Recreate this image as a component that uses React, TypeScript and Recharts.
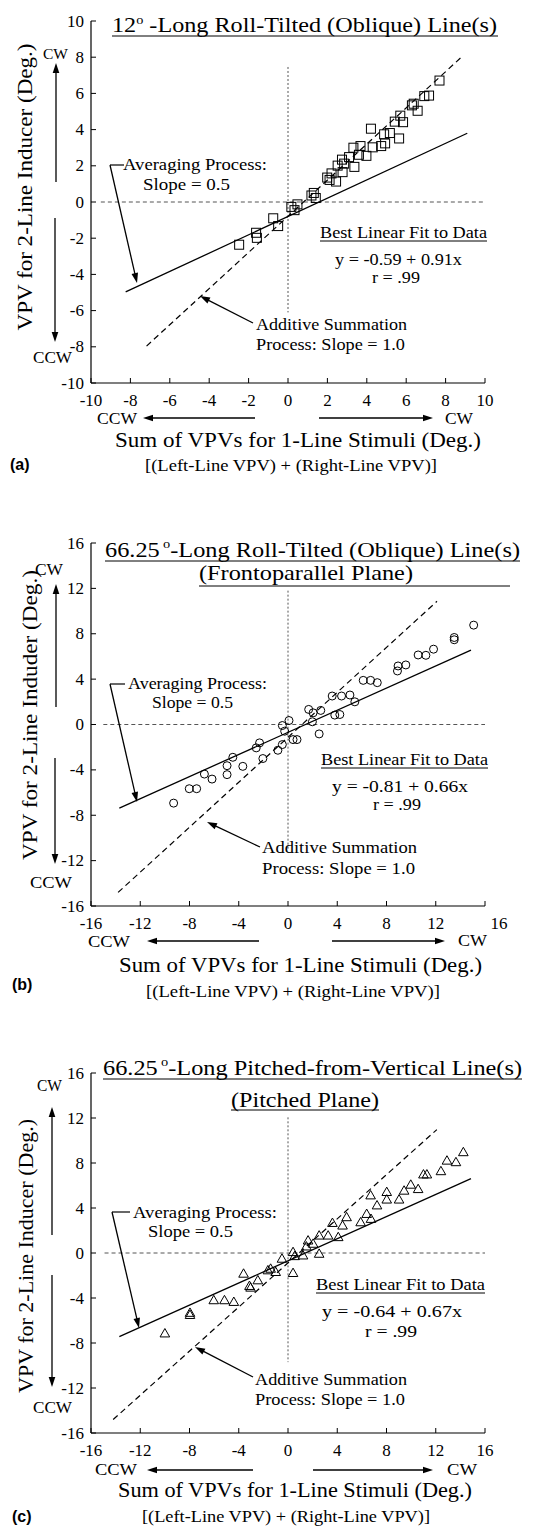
import React from 'react';
import { ScatterChart, Scatter, XAxis, YAxis, ReferenceLine } from 'recharts';

const W = 537;
const H = 1527;
const SERIF = "'Liberation Serif', 'Times New Roman', Times, serif";
const SANS = "'Liberation Sans', Arial, Helvetica, sans-serif";

// ---------- Panel (a): 12 deg roll-tilted lines ----------
const ticksA = [-10, -8, -6, -4, -2, 0, 2, 4, 6, 8, 10];
const pointsA = [
  { x: 7.69, y: 6.71 }, { x: 7.16, y: 5.88 }, { x: 6.92, y: 5.85 }, { x: 6.38, y: 5.43 },
  { x: 6.58, y: 5.04 }, { x: 6.29, y: 5.34 }, { x: 5.7, y: 4.77 }, { x: 5.84, y: 4.41 },
  { x: 5.42, y: 4.44 }, { x: 4.21, y: 4.05 }, { x: 4.88, y: 3.74 }, { x: 5.17, y: 3.81 },
  { x: 5.64, y: 3.51 }, { x: 4.93, y: 3.24 }, { x: 4.73, y: 3.09 }, { x: 4.3, y: 3.02 },
  { x: 3.68, y: 3.09 }, { x: 3.32, y: 3.0 }, { x: 3.6, y: 2.61 }, { x: 3.98, y: 2.55 },
  { x: 3.1, y: 2.48 }, { x: 2.74, y: 2.34 }, { x: 2.85, y: 2.12 }, { x: 3.37, y: 1.94 },
  { x: 2.52, y: 2.01 }, { x: 2.77, y: 1.65 }, { x: 2.21, y: 1.58 }, { x: 1.99, y: 1.35 },
  { x: 2.11, y: 1.22 }, { x: 2.44, y: 1.13 }, { x: 1.31, y: 0.5 }, { x: 1.19, y: 0.36 },
  { x: 1.41, y: 0.22 }, { x: 0.48, y: -0.13 }, { x: 0.17, y: -0.27 }, { x: 0.33, y: -0.45 },
  { x: -0.75, y: -0.9 }, { x: -0.5, y: -1.33 }, { x: -1.62, y: -1.7 }, { x: -1.58, y: -1.98 },
  { x: -2.48, y: -2.36 },
];
const avgLineA = [{ x: -8.24, y: -4.97 }, { x: 9.1, y: 3.8 }];
const addLineA = [{ x: -7.18, y: -7.96 }, { x: 8.9, y: 8.1 }];
const vZeroA = [{ x: 0, y: 7.46 }, { x: 0, y: -6.1 }];
const hZeroA = [{ x: -9.5, y: 0 }, { x: 10, y: 0 }];

// ---------- Panel (b): 66.25 deg roll-tilted lines ----------
const ticksB = [-16, -12, -8, -4, 0, 4, 8, 12, 16];
const pointsB = [
  { x: 15.08, y: 8.76 }, { x: 13.5, y: 7.67 }, { x: 13.5, y: 7.47 }, { x: 11.82, y: 6.64 },
  { x: 11.2, y: 6.1 }, { x: 10.57, y: 6.13 }, { x: 9.57, y: 5.25 }, { x: 8.94, y: 5.16 },
  { x: 8.89, y: 4.72 }, { x: 6.11, y: 3.89 }, { x: 6.71, y: 3.89 }, { x: 7.25, y: 3.69 },
  { x: 3.59, y: 2.51 }, { x: 4.35, y: 2.51 }, { x: 5.03, y: 2.6 }, { x: 5.43, y: 2.0 },
  { x: 1.68, y: 1.33 }, { x: 2.04, y: 1.03 }, { x: 2.66, y: 1.24 }, { x: 3.8, y: 0.83 },
  { x: 4.21, y: 0.88 }, { x: 1.98, y: 0.24 }, { x: 2.53, y: -0.83 }, { x: 0.08, y: 0.35 },
  { x: -0.46, y: -0.09 }, { x: -0.27, y: -0.59 }, { x: 0.73, y: -1.33 }, { x: 0.41, y: -1.33 },
  { x: -0.46, y: -1.77 }, { x: -0.82, y: -2.27 }, { x: -2.31, y: -1.62 }, { x: -2.58, y: -2.06 },
  { x: -2.04, y: -3.0 }, { x: -4.48, y: -2.89 }, { x: -4.95, y: -3.63 }, { x: -3.67, y: -3.69 },
  { x: -4.95, y: -4.42 }, { x: -6.79, y: -4.37 }, { x: -6.17, y: -4.81 }, { x: -8.02, y: -5.66 },
  { x: -7.42, y: -5.66 }, { x: -9.29, y: -6.93 },
];
const avgLineB = [{ x: -13.7, y: -7.37 }, { x: 14.86, y: 6.55 }];
const addLineB = [{ x: -13.8, y: -14.8 }, { x: 12.1, y: 10.86 }];
const vZeroB = [{ x: 0, y: 11.8 }, { x: 0, y: -11 }];
const hZeroB = [{ x: -15, y: 0 }, { x: 16, y: 0 }];

// ---------- Panel (c): 66.25 deg pitched-from-vertical lines ----------
const ticksC = [-16, -12, -8, -4, 0, 4, 8, 12, 16];
const pointsC = [
  { x: -10.0, y: -7.14 }, { x: -7.96, y: -5.31 }, { x: -7.96, y: -5.5 }, { x: -6.03, y: -4.19 },
  { x: -5.16, y: -4.19 }, { x: -4.4, y: -4.34 }, { x: -3.61, y: -1.83 }, { x: -3.13, y: -2.92 },
  { x: -3.04, y: -3.07 }, { x: -2.45, y: -2.42 }, { x: -1.63, y: -1.53 }, { x: -1.41, y: -1.39 },
  { x: -1.0, y: -1.68 }, { x: -0.49, y: -0.5 }, { x: 0.41, y: 0.09 }, { x: 0.54, y: -0.27 },
  { x: 1.22, y: -0.21 }, { x: 0.41, y: -1.77 }, { x: 1.49, y: 0.59 }, { x: 1.63, y: 1.12 },
  { x: 2.04, y: 0.83 }, { x: 2.53, y: -0.06 }, { x: 2.53, y: 1.56 }, { x: 3.26, y: 1.56 },
  { x: 4.08, y: 1.42 }, { x: 3.61, y: 2.68 }, { x: 4.43, y: 2.45 }, { x: 4.76, y: 3.19 },
  { x: 5.9, y: 2.74 }, { x: 6.39, y: 3.48 }, { x: 6.74, y: 3.04 }, { x: 6.71, y: 5.13 },
  { x: 7.23, y: 4.24 }, { x: 8.02, y: 5.43 }, { x: 8.02, y: 4.76 }, { x: 9.02, y: 4.76 },
  { x: 9.43, y: 5.55 }, { x: 9.97, y: 6.08 }, { x: 10.57, y: 5.69 }, { x: 11.0, y: 6.99 },
  { x: 11.28, y: 6.99 }, { x: 12.42, y: 7.28 }, { x: 12.91, y: 8.22 }, { x: 13.64, y: 8.08 },
  { x: 14.24, y: 8.97 },
];
const avgLineC = [{ x: -13.7, y: -7.43 }, { x: 14.86, y: 6.61 }];
const addLineC = [{ x: -14.2, y: -14.8 }, { x: 12.09, y: 10.97 }];
const vZeroC = [{ x: 0, y: 12.06 }, { x: 0, y: -9.7 }];
const hZeroC = [{ x: -14.9, y: 0 }, { x: 16, y: 0 }];

// ---------- marker shapes ----------
const SquareShape = (p: any) => (
  <rect x={p.cx - 4.5} y={p.cy - 4.5} width={9} height={9} fill="none" stroke="#000" strokeWidth={1} />
);
const CircleShape = (p: any) => (
  <circle cx={p.cx} cy={p.cy} r={4} fill="none" stroke="#000" strokeWidth={1} />
);
const TriangleShape = (p: any) => (
  <path
    d={`M${p.cx},${p.cy - 4.8} L${p.cx + 4.8},${p.cy + 3.6} L${p.cx - 4.8},${p.cy + 3.6} Z`}
    fill="none"
    stroke="#000"
    strokeWidth={1}
  />
);

const makeXTick = (shift: Record<number, number>) => (p: any) => (
  <text
    x={p.x + (shift[p.payload.value] || 0)}
    y={p.y}
    dy={12}
    textAnchor="middle"
    fontFamily={SERIF}
    fontSize={17}
    fill="#000"
  >
    {p.payload.value}
  </text>
);
const YTick = (p: any) => (
  <text x={p.x} y={p.y} dy={5.5} textAnchor="end" fontFamily={SERIF} fontSize={17} fill="#000">
    {p.payload.value}
  </text>
);

type PanelProps = {
  top: number;
  bottom: number;
  domain: [number, number];
  ticks: number[];
  points: { x: number; y: number }[];
  shape: any;
  avg: { x: number; y: number }[];
  add: { x: number; y: number }[];
  vz: { x: number; y: number }[];
  hz: { x: number; y: number }[];
  xShift?: Record<number, number>;
};

function Panel({ top, bottom, domain, ticks, points, shape, avg, add, vz, hz, xShift = {} }: PanelProps) {
  return (
    <div style={{ position: 'absolute', left: 0, top: 0 }}>
      <ScatterChart width={W} height={H} margin={{ top, right: 52, bottom: H - bottom - 30, left: 31 }}>
        <XAxis
          type="number"
          dataKey="x"
          domain={domain}
          ticks={ticks}
          interval={0}
          allowDataOverflow
          height={30}
          tickSize={5}
          tickMargin={6}
          axisLine={{ stroke: '#000', strokeWidth: 1.2 }}
          tickLine={{ stroke: '#000', transform: 'translate(0,-5)' }}
          tick={makeXTick(xShift)}
        />
        <YAxis
          type="number"
          dataKey="y"
          domain={domain}
          ticks={ticks}
          interval={0}
          allowDataOverflow
          width={60}
          tickSize={5}
          tickMargin={2}
          axisLine={{ stroke: '#000', strokeWidth: 1.2 }}
          tickLine={{ stroke: '#000', transform: 'translate(5,0)' }}
          tick={YTick}
        />
        <ReferenceLine segment={hz} stroke="#555" strokeWidth={1} strokeDasharray="4 3" />
        <ReferenceLine segment={vz} stroke="#555" strokeWidth={1} strokeDasharray="2 2" />
        <ReferenceLine segment={avg} stroke="#000" strokeWidth={1.3} />
        <ReferenceLine segment={add} stroke="#000" strokeWidth={1.2} strokeDasharray="6 4" />
        <Scatter data={points} shape={shape} isAnimationActive={false} />
      </ScatterChart>
    </div>
  );
}

// ---------- annotation helpers ----------
function Arrow({ x1, y1, x2, y2 }: { x1: number; y1: number; x2: number; y2: number }) {
  const a = Math.atan2(y2 - y1, x2 - x1);
  const head = 10;
  const hw = 3.3;
  const bx = x2 - head * Math.cos(a);
  const by = y2 - head * Math.sin(a);
  const px = -Math.sin(a) * hw;
  const py = Math.cos(a) * hw;
  return (
    <g>
      <line x1={x1} y1={y1} x2={bx + 2 * Math.cos(a)} y2={by + 2 * Math.sin(a)} stroke="#000" strokeWidth={1.3} />
      <polygon points={`${x2},${y2} ${bx + px},${by + py} ${bx - px},${by - py}`} fill="#000" />
    </g>
  );
}

function T({
  x, y, w, size = 17, anchor = 'start', children, family = SERIF, weight = 'normal',
}: any) {
  return (
    <text
      x={x}
      y={y}
      fontSize={size}
      fontFamily={family}
      fontWeight={weight}
      textAnchor={anchor}
      fill="#000"
      textLength={w}
      lengthAdjust={w ? 'spacingAndGlyphs' : undefined}
    >
      {children}
    </text>
  );
}

function YLabel({ x, cy, len, text }: { x: number; cy: number; len: number; text: string }) {
  return (
    <text
      transform={`translate(${x},${cy}) rotate(-90)`}
      textAnchor="middle"
      fontSize={22}
      fontFamily={SERIF}
      fill="#000"
      textLength={len}
      lengthAdjust="spacingAndGlyphs"
    >
      {text}
    </text>
  );
}

function Line({ x1, y1, x2, y2, w = 1.2 }: any) {
  return <line x1={x1} y1={y1} x2={x2} y2={y2} stroke="#000" strokeWidth={w} />;
}

function Annotations() {
  return (
    <svg width={W} height={H} style={{ position: 'absolute', left: 0, top: 0, pointerEvents: 'none' }}>
      {/* ===== Panel (a) ===== */}
      <text x={112} y={32} fontSize={22} fontFamily={SERIF} fill="#000" textLength={385} lengthAdjust="spacingAndGlyphs">
        12<tspan fontSize={13} dy={-8}>o</tspan>
        <tspan dy={8}> -Long Roll-Tilted (Oblique) Line(s)</tspan>
      </text>
      <Line x1={112} y1={36} x2={498} y2={36} w={1} />
      <T x={43} y={59} w={25} size={15}>CW</T>
      <Arrow x1={56} y1={182} x2={56} y2={63} />
      <Arrow x1={55} y1={218} x2={55} y2={342} />
      <T x={33} y={363} w={39} size={16}>CCW</T>
      <YLabel x={32} cy={187} len={287} text="VPV for 2-Line Inducer (Deg.)" />
      <T x={123} y={170} w={144}>Averaging Process:</T>
      <T x={143} y={190} w={87}>Slope = 0.5</T>
      <Line x1={110} y1={165} x2={124} y2={165} />
      <Arrow x1={110} y1={165} x2={137} y2={283} />
      <T x={320} y={238} w={167}>Best Linear Fit to Data</T>
      <Line x1={320} y1={241} x2={487} y2={241} w={1} />
      <T x={335} y={265} w={127}>y = -0.59 + 0.91x</T>
      <T x={372} y={283} w={48}>r = .99</T>
      <T x={256} y={330} w={151}>Additive Summation</T>
      <T x={256} y={350} w={149}>Process: Slope = 1.0</T>
      <Arrow x1={253} y1={323} x2={200} y2={296} />
      <T x={97} y={424} w={40} size={16}>CCW</T>
      <Arrow x1={255} y1={418} x2={143} y2={418} />
      <Arrow x1={319} y1={418} x2={433} y2={418} />
      <T x={445} y={424} w={28} size={16}>CW</T>
      <T x={115} y={447} w={366} size={21}>Sum of VPVs for 1-Line Stimuli (Deg.)</T>
      <T x={145} y={471} w={292} size={16}>[(Left-Line VPV) + (Right-Line VPV)]</T>
      <T x={10} y={470} size={16} family={SANS} weight="bold">(a)</T>

      {/* ===== Panel (b) ===== */}
      <text x={105} y={557} fontSize={22} fontFamily={SERIF} fill="#000" textLength={415} lengthAdjust="spacingAndGlyphs">
        66.25<tspan fontSize={13} dx={3} dy={-9}>o</tspan>
        <tspan dy={9}>-Long Roll-Tilted (Oblique) Line(s)</tspan>
      </text>
      <Line x1={105} y1={561} x2={520} y2={561} w={1} />
      <T x={199} y={580} w={214} size={22}>(Frontoparallel Plane)</T>
      <Line x1={199} y1={586} x2={510} y2={586} w={1} />
      <T x={35} y={575} w={28} size={16}>CW</T>
      <Arrow x1={56} y1={707} x2={56} y2={584} />
      <Arrow x1={55} y1={758} x2={55} y2={864} />
      <T x={30} y={888} w={42} size={16}>CCW</T>
      <YLabel x={37} cy={715} len={290} text="VPV for 2-Line Induder (Deg.)" />
      <T x={128} y={689} w={139}>Averaging Process:</T>
      <T x={152} y={708} w={81}>Slope = 0.5</T>
      <Line x1={110} y1={684} x2={125} y2={684} />
      <Arrow x1={110} y1={684} x2={137} y2={802} />
      <T x={321} y={765} w={167}>Best Linear Fit to Data</T>
      <Line x1={321} y1={768} x2={488} y2={768} w={1} />
      <T x={332} y={792} w={136}>y = -0.81 + 0.66x</T>
      <T x={373} y={810} w={48}>r = .99</T>
      <T x={262} y={853} w={155}>Additive Summation</T>
      <T x={262} y={874} w={153}>Process: Slope = 1.0</T>
      <Arrow x1={260} y1={847} x2={207} y2={822} />
      <T x={88} y={947} w={42} size={16}>CCW</T>
      <Arrow x1={259} y1={941} x2={147} y2={941} />
      <Arrow x1={332} y1={941} x2={445} y2={941} />
      <T x={458} y={946} w={29} size={16}>CW</T>
      <T x={119} y={972} w={363} size={21}>Sum of VPVs for 1-Line Stimuli (Deg.)</T>
      <T x={146} y={997} w={294} size={16}>[(Left-Line VPV) + (Right-Line VPV)]</T>
      <T x={12} y={990} size={16} family={SANS} weight="bold">(b)</T>

      {/* ===== Panel (c) ===== */}
      <text x={103} y={1075} fontSize={22} fontFamily={SERIF} fill="#000" textLength={419} lengthAdjust="spacingAndGlyphs">
        66.25<tspan fontSize={13} dx={3} dy={-9}>o</tspan>
        <tspan dy={9}>-Long Pitched-from-Vertical Line(s)</tspan>
      </text>
      <Line x1={103} y1={1079} x2={522} y2={1079} w={1} />
      <T x={231} y={1107} w={148} size={22}>(Pitched Plane)</T>
      <Line x1={231} y1={1110} x2={379} y2={1110} w={1} />
      <T x={37} y={1091} w={25} size={16}>CW</T>
      <Arrow x1={52} y1={1235} x2={52} y2={1107} />
      <Arrow x1={52} y1={1275} x2={52} y2={1387} />
      <T x={33} y={1413} w={39} size={16}>CCW</T>
      <YLabel x={33} cy={1256} len={274} text="VPV for 2-Line Inducer (Deg.)" />
      <T x={133} y={1218} w={144}>Averaging Process:</T>
      <T x={148} y={1237} w={85}>Slope = 0.5</T>
      <Line x1={112} y1={1212} x2={130} y2={1212} />
      <Arrow x1={112} y1={1212} x2={139} y2={1328} />
      <T x={316} y={1290} w={169}>Best Linear Fit to Data</T>
      <Line x1={316} y1={1293} x2={485} y2={1293} w={1} />
      <T x={322} y={1317} w={140}>y = -0.64 + 0.67x</T>
      <T x={365} y={1337} w={52}>r = .99</T>
      <T x={255} y={1385} w={152}>Additive Summation</T>
      <T x={255} y={1405} w={150}>Process: Slope = 1.0</T>
      <Arrow x1={253} y1={1377} x2={195} y2={1347} />
      <T x={95} y={1475} w={42} size={16}>CCW</T>
      <Arrow x1={253} y1={1470} x2={147} y2={1470} />
      <Arrow x1={313} y1={1470} x2={433} y2={1470} />
      <T x={447} y={1475} w={30} size={16}>CW</T>
      <T x={118} y={1497} w={354} size={21}>Sum of VPVs for 1-Line Stimuli (Deg.)</T>
      <T x={142} y={1522} w={288} size={16}>[(Left-Line VPV) + (Right-Line VPV)]</T>
      <T x={12} y={1522} size={16} family={SANS} weight="bold">(c)</T>
    </svg>
  );
}

export default function App() {
  return (
    <div style={{ position: 'absolute', left: 0, top: 0, width: W, height: H, background: '#fff', overflow: 'hidden' }}>
      <Panel top={21} bottom={383} domain={[-10, 10]} ticks={ticksA} points={pointsA} shape={SquareShape}
        avg={avgLineA} add={addLineA} vz={vZeroA} hz={hZeroA} />
      <Panel top={543} bottom={906} domain={[-16, 16]} ticks={ticksB} points={pointsB} shape={CircleShape}
        avg={avgLineB} add={addLineB} vz={vZeroB} hz={hZeroB} xShift={{ 16: 14 }} />
      <Panel top={1073} bottom={1433} domain={[-16, 16]} ticks={ticksC} points={pointsC} shape={TriangleShape}
        avg={avgLineC} add={addLineC} vz={vZeroC} hz={hZeroC} />
      <Annotations />
    </div>
  );
}
